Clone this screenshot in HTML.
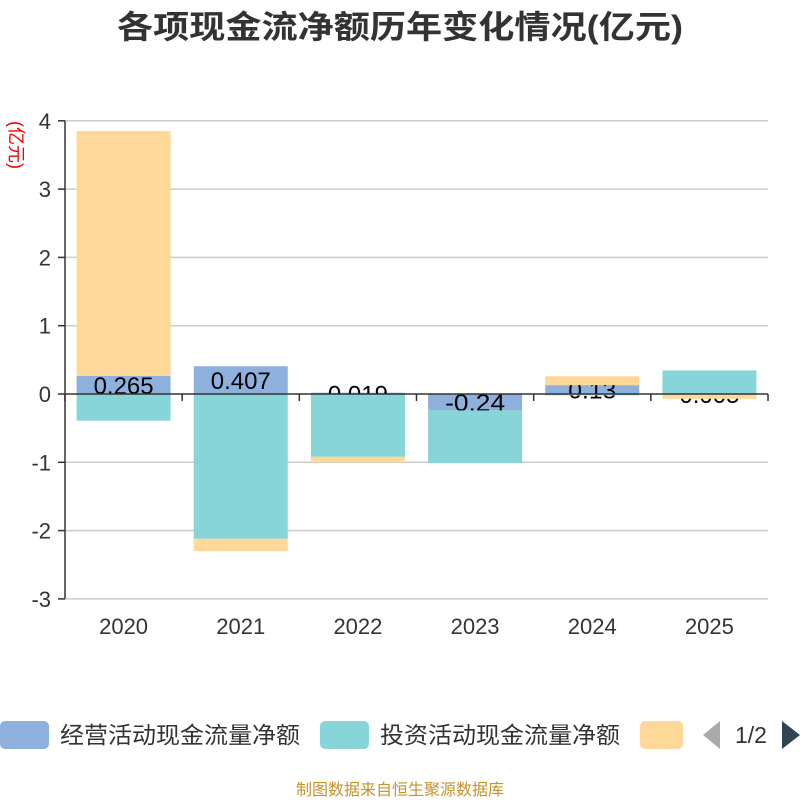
<!DOCTYPE html>
<html><head><meta charset="utf-8"><style>
body{margin:0;width:800px;height:800px;background:#fff;overflow:hidden}
svg{font-family:"Liberation Sans","Noto Sans CJK SC",sans-serif}
</style></head><body>
<svg id="chart" width="800" height="800">
<text x="400" y="38" text-anchor="middle" font-size="32" font-weight="bold" fill="#333" textLength="566" lengthAdjust="spacingAndGlyphs">各项现金流净额历年变化情况(亿元)</text>
<text transform="translate(10,145) rotate(90)" text-anchor="middle" font-size="18" fill="#e00">(亿元)</text>
<g id="grid"></g><g id="bars"></g><g id="axes"></g>
<g>
<rect x="0" y="721" width="49" height="28" rx="5" fill="#8eb0dc"/>
<text x="60" y="743" font-size="23" fill="#333" textLength="240" lengthAdjust="spacingAndGlyphs">经营活动现金流量净额</text>
<rect x="320" y="721" width="49" height="28" rx="5" fill="#87d5d9"/>
<text x="380" y="743" font-size="23" fill="#333" textLength="240" lengthAdjust="spacingAndGlyphs">投资活动现金流量净额</text>
<rect x="640" y="721" width="43" height="28" rx="5" fill="#fed898"/>
<polygon points="720,721 703,735 720,749" fill="#aaa"/>
<text x="751" y="743" text-anchor="middle" font-size="23" fill="#333">1/2</text>
<polygon points="782,721 800,735 782,749" fill="#2f4554"/>
</g>
<text x="400" y="795" text-anchor="middle" font-size="16" fill="#c8922a">制图数据来自恒生聚源数据库</text>
</svg>
<script>
const categories=["2020","2021","2022","2023","2024","2025"];
const operating=[0.265,0.407,0.019,-0.24,0.13,0.005];
const investing=[-0.39,-2.12,-0.92,-0.77,-0.02,0.34];
const financing=[3.585,-0.18,-0.08,0,0.13,-0.07];
const yTicks=[4,3,2,1,0,-1,-2,-3];
const opLabels=["0.265","0.407","0.019","-0.24","0.13","0.005"];

const NS="http://www.w3.org/2000/svg";
const x0=65,x1=768,yTop=121,yZero=394,pxPerUnit=68.3;
const band=(x1-x0)/categories.length,barW=94;
function y(v){return yZero-v*pxPerUnit;}
function xc(i){return x0+band*(i+0.5);}
function mk(tag,attrs,parent){const e=document.createElementNS(NS,tag);for(const k in attrs)e.setAttribute(k,attrs[k]);parent.appendChild(e);return e;}
const grid=document.getElementById('grid'),bars=document.getElementById('bars'),axes=document.getElementById('axes');
yTicks.forEach(t=>{
  if(t!==0){const l=mk('line',{x1:x0,x2:x1,y1:y(t),y2:y(t),stroke:'#ccc','stroke-width':1.5},grid);
  
  }
  mk('line',{x1:x0-7,x2:x0,y1:y(t),y2:y(t),stroke:'#333','stroke-width':1.5},axes);
  const tx=mk('text',{x:x0-14,y:y(t)+8,'text-anchor':'end','font-size':22,fill:'#333'},axes);
  tx.textContent=t;
  
  
});
const series=[[operating,'#8eb0dc','operating'],[investing,'#87d5d9','investing'],[financing,'#fed898','financing']];
const pos=categories.map(()=>0),neg=categories.map(()=>0);
series.forEach(([arr,col,nm],si)=>{
  categories.forEach((c,i)=>{
    const v=arr[i];if(!v)return;
    let a,b;
    if(v>=0){a=pos[i];b=a+v;pos[i]=b;}else{a=neg[i];b=a+v;neg[i]=b;}
    const top=y(Math.max(a,b)),h=Math.abs(y(a)-y(b));
    const r=mk('rect',{x:xc(i)-barW/2,y:top,width:barW,height:h,fill:col},bars);
    
    
  });
  if(si===0){
    categories.forEach((c,i)=>{
      const v=operating[i];
      const lt=mk('text',{x:xc(i),y:y(v/2)+9,'text-anchor':'middle','font-size':24,fill:'#000',textLength:opLabels[i].length*12,lengthAdjust:'spacingAndGlyphs'},bars);
      lt.textContent=opLabels[i];
      
      
    });
  }
});
categories.forEach((c,i)=>{
  const xt=mk('text',{x:xc(i),y:634,'text-anchor':'middle','font-size':22,fill:'#333'},axes);
  xt.textContent=c;
  
  
});
for(let i=0;i<=categories.length;i++){mk('line',{x1:x0+band*i,x2:x0+band*i,y1:yZero,y2:yZero+7,stroke:'#333','stroke-width':1.5},axes);}
const xa=mk('line',{x1:x0,x2:x1,y1:yZero,y2:yZero,stroke:'#333','stroke-width':1.5},axes);


const ya=mk('line',{x1:x0,x2:x0,y1:y(4),y2:y(-3),stroke:'#333','stroke-width':1.5},axes);


</script>
</body></html>
